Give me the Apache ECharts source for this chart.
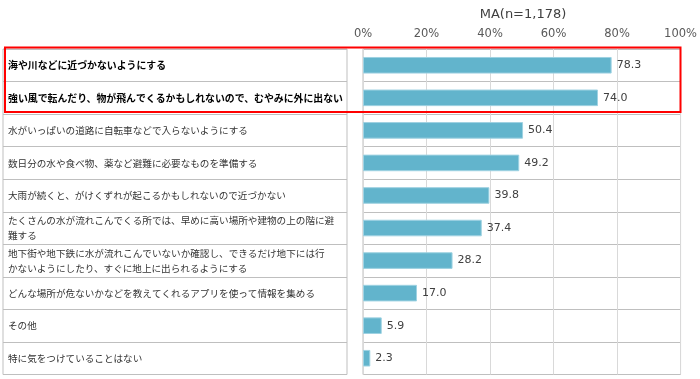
<!DOCTYPE html>
<html>
<head>
<meta charset="utf-8">
<script src="https://cdn.jsdelivr.net/npm/echarts@6/dist/echarts.min.js"></script>
<style>html,body{margin:0;padding:0;background:#fff}#c{width:700px;height:379px}</style>
</head>
<body>
<div id="c"></div>
<script>
const categories = [
  "海や川などに近づかないようにする",
  "強い風で転んだり、物が飛んでくるかもしれないので、むやみに外に出ない",
  "水がいっぱいの道路に自転車などで入らないようにする",
  "数日分の水や食べ物、薬など避難に必要なものを準備する",
  "大雨が続くと、がけくずれが起こるかもしれないので近づかない",
  "たくさんの水が流れこんでくる所では、早めに高い場所や建物の上の階に避\n難する",
  "地下街や地下鉄に水が流れこんでいないか確認し、できるだけ地下には行\nかないようにしたり、すぐに地上に出られるようにする",
  "どんな場所が危ないかなどを教えてくれるアプリを使って情報を集める",
  "その他",
  "特に気をつけていることはない"
];
const values = [78.3, 74.0, 50.4, 49.2, 39.8, 37.4, 28.2, 17.0, 5.9, 2.3];
const highlighted = [0, 1];
const axisMin = 0, axisMax = 100, axisStep = 20;
const titleText = "MA(n=1,178)";

const chart = echarts.init(document.getElementById('c'), null, {renderer: 'canvas'});
const FONT_JP = '"Noto Sans CJK JP", sans-serif';
chart.setOption({
  animation: false,
  title: {
    text: titleText, left: 518, top: 3, textAlign: 'center',
    textStyle: {fontFamily: 'DejaVu Sans', fontSize: 13, fontWeight: 'normal', color: '#404040'}
  },
  grid: [
    {left: 363, right: 19, top: 49, bottom: 4.5, show: true, borderColor: '#bfbfbf', borderWidth: 1, containLabel: false},
    {left: 3, width: 344, top: 49, bottom: 4.5, show: true, borderColor: '#bfbfbf', borderWidth: 1, containLabel: false}
  ],
  xAxis: [
    {gridIndex: 0, type: 'value', position: 'top', min: axisMin, max: axisMax, interval: axisStep,
     axisLine: {show: false}, axisTick: {show: false},
     axisLabel: {formatter: '{value}%', fontFamily: 'DejaVu Sans', fontSize: 11.5, color: '#595959', margin: 9},
     splitLine: {show: true, lineStyle: {color: '#d9d9d9', width: 1}}},
    {gridIndex: 1, type: 'value', show: false, min: 0, max: 1}
  ],
  yAxis: [
    {gridIndex: 0, type: 'category', data: categories, inverse: true,
     axisLine: {show: false}, axisTick: {show: false}, axisLabel: {show: false},
     splitLine: {show: true, lineStyle: {color: '#bfbfbf', width: 1}}},
    {gridIndex: 1, type: 'category', data: categories, inverse: true,
     axisLine: {show: false}, axisTick: {show: false},
     splitLine: {show: true, lineStyle: {color: '#bfbfbf', width: 1}},
     axisLabel: {
       align: 'left', margin: -5, lineHeight: 15,
       formatter: function (v, i) {
         const key = highlighted.indexOf(i) >= 0 ? 'b' : 'n';
         return v.split('\n').map(s => '{' + key + '|' + s + '}').join('\n');
       },
       rich: {
         b: {fontFamily: FONT_JP, fontSize: 9.9, fontWeight: 'bold', color: '#000', lineHeight: 15},
         n: {fontFamily: FONT_JP, fontSize: 9.6, fontWeight: 'normal', color: '#333', lineHeight: 15}
       }
     }}
  ],
  series: [
    {type: 'bar', xAxisIndex: 0, yAxisIndex: 0, data: values, barWidth: '51%',
     itemStyle: {color: '#62b4cc', borderColor: '#9fd2e2', borderWidth: 1},
     label: {show: true, position: 'right', distance: 5, fontFamily: 'DejaVu Sans', fontSize: 11, color: '#404040',
             formatter: p => p.value.toFixed(1)}},
    {type: 'bar', xAxisIndex: 1, yAxisIndex: 1, data: values.map(() => 0), silent: true, itemStyle: {opacity: 0}}
  ],
  graphic: [
    {type: 'rect', z: 100, shape: {x: 5, y: 47.5, width: 675.5, height: 64.5},
     style: {fill: null, stroke: '#ff0000', lineWidth: 2}}
  ]
});
</script>
</body>
</html>
